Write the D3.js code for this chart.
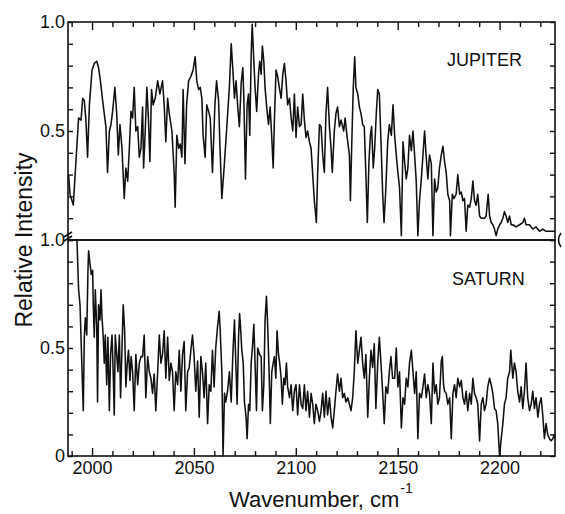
<!DOCTYPE html>
<html>
<head>
<meta charset="utf-8">
<script src="https://cdn.jsdelivr.net/npm/d3@7"></script>
<style>
	body { margin: 0; background: #fff; }
	svg text { font-family: 'Liberation Sans', Arial, sans-serif; fill: #111; }
	.axis line { stroke: #111; stroke-width: 1.4; }
	.axis path { display: none; }
	.frame { fill: none; stroke: #111; stroke-width: 1.6; }
	.spectrum { fill: none; stroke: #111; stroke-width: 1.55; stroke-linejoin: round; }
</style>
</head>
<body>
<div id="chart"></div>
<script>
'use strict';

// wavenumber (cm-1) and relative intensity
var jupiterWave = [1988.5,1989.2,1990.8,1992.1,1993.4,1994.6,1995.4,1996.2,1997.0,1997.8,1998.7,2000.0,2001.1,2002.3,2003.2,2004.1,2005.2,2006.0,2006.8,2007.6,2008.5,2009.3,2010.1,2011.2,2012.1,2012.9,2013.7,2014.7,2015.8,2016.6,2017.5,2018.3,2019.1,2019.9,2020.7,2021.5,2022.4,2023.2,2024.0,2024.8,2025.3,2026.1,2026.9,2027.7,2028.4,2029.2,2030.0,2031.0,2032.2,2033.3,2034.6,2035.4,2036.2,2037.1,2037.9,2039.2,2040.3,2040.8,2041.6,2042.5,2043.3,2044.1,2044.7,2045.6,2046.4,2047.4,2048.5,2049.6,2050.6,2051.4,2052.3,2053.1,2053.9,2054.5,2055.5,2056.3,2057.2,2058.0,2059.1,2060.3,2061.1,2062.1,2062.7,2063.7,2064.8,2066.0,
	2067.4,2068.3,2069.1,2069.9,2070.7,2071.5,2072.3,2073.2,2074.0,2074.5,2075.3,2076.1,2076.8,2077.4,2078.1,2078.6,2079.4,2080.0,2080.8,2081.7,2082.3,2083.0,2083.6,2084.3,2084.9,2085.7,2086.6,2087.4,2088.2,2088.9,2089.5,2090.3,2091.1,2091.9,2092.8,2093.6,2094.4,2095.2,2096.0,2096.9,2097.7,2098.5,2099.3,2100.1,2100.9,2101.8,2102.6,2103.4,2104.2,2105.0,2105.8,2106.7,2107.5,2108.3,2109.1,2110.1,2110.7,2111.6,2112.4,2113.2,2114.0,2114.8,2115.6,2116.5,2117.3,2117.9,2118.9,2119.7,2120.5,2121.4,2122.2,2123.5,2124.2,2125.1,2126.3,2126.8,2127.4,2128.2,2128.9,2129.5,2130.4,2131.2,2132.0,2132.8,2133.6,2134.4,2135.1,2135.9,2136.6,2137.2,2138.0,2138.7,2139.5,2140.2,2141.0,2141.8,2142.6,2143.3,2144.1,2145.1,2145.9,
	2146.9,2147.7,2148.5,2149.3,2150.1,2150.9,2151.8,2152.6,2153.4,2154.2,2155.0,2155.8,2156.7,2157.5,2158.3,2159.1,2159.9,2160.7,2161.6,2162.4,2163.2,2164.0,2164.8,2165.6,2166.5,2167.3,2168.1,2168.9,2169.7,2170.5,2171.4,2172.2,2173.0,2173.8,2174.6,2175.5,2175.9,2176.8,2177.6,2178.7,2179.5,2180.4,2181.2,2182.0,2182.8,2183.6,2184.4,2185.3,2186.1,2186.9,2187.7,2188.5,2189.3,2190.2,2191.0,2191.8,2192.6,2193.4,2194.4,2195.1,2195.9,2196.7,2197.5,2198.3,2199.1,2200.0,2200.8,2201.6,2202.4,2203.2,2204.0,2204.9,2205.7,2206.5,2208.1,2209.8,2211.4,2212.2,2213.0,2214.7,2216.3,2217.9,2219.6,2221.2,2222.8,2224.5,2226.1,2227.2];
var jupiterIntensity = [.30,.21,.16,.36,.56,.55,.65,.64,.55,.38,.62,.78,.81,.82,.79,.73,.64,.58,.52,.31,.50,.53,.59,.70,.58,.39,.53,.42,.19,.33,.27,.42,.59,.56,.70,.50,.52,.38,.42,.61,.33,.50,.70,.55,.36,.69,.62,.65,.73,.67,.73,.62,.45,.65,.58,.50,.31,.15,.48,.42,.44,.38,.69,.35,.62,.73,.75,.78,.84,.73,.69,.70,.65,.48,.38,.62,.59,.56,.31,.62,.73,.64,.45,.19,.33,.50,
	.70,.90,.78,.65,.73,.61,.52,.72,.79,.65,.28,.62,.67,.48,.85,.99,.82,.70,.59,.76,.82,.76,.89,.82,.70,.61,.53,.61,.47,.33,.55,.78,.75,.70,.65,.76,.81,.73,.62,.65,.56,.50,.67,.47,.61,.52,.53,.67,.55,.47,.50,.45,.42,.30,.18,.08,.30,.53,.52,.39,.31,.58,.70,.52,.42,.31,.50,.58,.61,.52,.55,.50,.56,.48,.39,.18,.42,.70,.84,.70,.67,.61,.58,.53,.52,.30,.08,.36,.48,.52,.33,.42,.58,.69,.67,.45,.22,.08,.22,.45,.53,
	.48,.62,.48,.39,.31,.24,.02,.45,.36,.28,.33,.48,.41,.50,.39,.27,.02,.18,.28,.39,.50,.38,.28,.39,.35,.02,.28,.22,.24,.33,.39,.43,.36,.31,.21,.18,.02,.21,.19,.21,.30,.21,.22,.18,.19,.04,.16,.15,.19,.27,.18,.16,.21,.11,.10,.10,.10,.11,.21,.11,.08,.07,.05,.02,.05,.07,.08,.10,.13,.11,.08,.11,.07,.07,.06,.07,.08,.10,.07,.07,.05,.06,.04,.05,.04,.04,.04,.04];

var saturnWave = [1992.6,1993.4,1994.1,1995.1,1995.7,1996.2,1996.7,1997.4,1998.0,1998.3,1999.0,1999.6,2000.3,2000.6,2001.1,2001.6,2002.3,2002.7,2003.2,2003.9,2004.4,2004.9,2005.5,2006.0,2006.5,2007.2,2007.8,2008.5,2009.1,2009.8,2010.4,2010.9,2011.4,2012.1,2012.7,2013.4,2014.0,2014.7,2015.3,2016.0,2016.6,2017.3,2017.9,2018.6,2019.2,2019.9,2020.7,2021.5,2022.4,2023.2,2024.0,2024.8,2025.6,2026.4,2027.3,2028.1,2028.9,2029.7,2030.5,2031.3,2032.2,2033.0,2033.8,2034.6,2035.4,2036.2,2037.1,2037.9,2038.7,2039.5,2040.3,2041.1,2042.0,2042.8,2043.6,2044.4,2045.2,2046.0,2046.9,2047.7,2048.5,2049.3,2050.1,2050.9,2051.8,2052.6,2053.4,2054.2,2055.0,2055.8,2056.7,2057.5,2058.3,2059.1,2059.9,2060.7,2061.6,2062.4,2062.9,2063.7,2064.3,2065.0,2065.6,2066.5,
	2067.4,2068.3,2069.1,2069.9,2070.7,2071.2,2071.9,2072.4,2072.8,2073.5,2074.2,2074.8,2075.6,2076.1,2076.8,2077.4,2078.1,2078.7,2079.4,2080.0,2080.7,2081.3,2082.2,2083.0,2083.6,2084.3,2084.9,2085.6,2086.2,2086.9,2087.5,2088.2,2088.9,2089.5,2090.2,2090.8,2091.5,2092.1,2092.8,2093.4,2094.1,2094.7,2095.4,2096.0,2096.9,2097.7,2098.5,2099.3,2100.1,2100.9,2101.8,2102.6,2103.4,2104.2,2105.0,2105.8,2106.7,2107.5,2108.3,2109.1,2109.9,2110.7,2111.6,2112.4,2113.2,2114.0,2114.8,2115.6,2116.5,2117.3,2118.1,2118.9,2119.7,2120.5,2121.4,2122.2,2123.0,2123.8,2124.6,2125.5,2126.3,2127.1,2127.9,2128.7,2129.5,2130.4,2131.2,2132.0,2132.8,2133.6,2134.4,2135.3,2136.1,2136.9,2137.7,2138.5,2139.3,2140.2,2141.0,2141.8,2142.6,2143.4,2144.2,2145.1,2145.9,2146.7,2147.5,
	2148.5,2149.3,2150.1,2150.9,2151.8,2152.6,2153.4,2154.2,2155.0,2155.8,2156.7,2157.5,2158.3,2159.1,2159.9,2160.7,2161.6,2162.4,2163.2,2164.0,2164.8,2165.6,2166.5,2167.3,2168.1,2168.9,2169.7,2170.5,2171.4,2171.9,2172.5,2173.0,2173.8,2174.6,2175.5,2176.3,2177.1,2177.9,2178.7,2179.5,2180.4,2181.2,2182.0,2182.8,2183.6,2184.4,2185.3,2186.1,2186.9,2187.7,2188.5,2189.3,2190.2,2191.0,2191.8,2192.6,2193.4,2194.2,2195.1,2195.9,2196.7,2197.5,2198.3,2199.1,2200.0,2200.8,2201.6,2202.4,2203.2,2204.0,2204.9,2205.5,2206.5,2207.3,2208.1,2208.9,2209.8,2210.6,2211.4,2212.2,2213.0,2213.8,2214.7,2215.5,2216.3,2217.1,2217.9,2218.8,2219.6,2220.4,2221.2,2222.0,2222.8,2223.6,2224.5,2225.3,2226.1,2226.9,2227.2];
var saturnIntensity = [1.00,.77,.70,.39,.21,.55,.64,.56,.86,.95,.89,.84,.86,.70,.55,.77,.60,.25,.70,.63,.77,.64,.55,.43,.56,.33,.55,.21,.47,.56,.38,.19,.56,.47,.39,.56,.27,.50,.70,.58,.32,.43,.49,.35,.46,.39,.21,.47,.33,.43,.46,.46,.56,.27,.46,.39,.36,.29,.38,.21,.39,.56,.43,.47,.58,.36,.55,.35,.43,.39,.21,.39,.33,.49,.30,.47,.53,.21,.39,.41,.49,.56,.46,.30,.44,.18,.46,.39,.27,.43,.15,.33,.30,.49,.32,.50,.60,.67,.58,.39,.00,.29,.25,.30,
	.39,.25,.47,.63,.39,.24,.55,.66,.61,.49,.43,.25,.18,.08,.24,.21,.43,.50,.61,.43,.21,.50,.47,.46,.21,.33,.63,.74,.60,.39,.15,.39,.43,.46,.36,.58,.47,.43,.36,.24,.36,.33,.43,.32,.27,.33,.21,.30,.33,.19,.33,.24,.22,.33,.21,.30,.18,.29,.24,.15,.24,.21,.16,.21,.29,.18,.30,.19,.27,.18,.13,.21,.30,.38,.30,.36,.27,.29,.25,.27,.24,.21,.27,.39,.58,.43,.49,.55,.43,.36,.47,.18,.36,.49,.41,.52,.22,.43,.55,.43,.30,.15,.32,.29,.39,.46,.36,
	.36,.50,.32,.39,.13,.27,.24,.36,.32,.43,.49,.39,.29,.39,.08,.29,.27,.32,.38,.27,.33,.29,.15,.43,.29,.33,.24,.27,.44,.46,.33,.30,.29,.24,.27,.08,.29,.33,.27,.36,.32,.35,.27,.24,.30,.21,.29,.24,.36,.29,.27,.24,.07,.24,.27,.21,.24,.32,.36,.33,.29,.22,.21,.15,.00,.08,.15,.24,.27,.36,.39,.49,.36,.43,.39,.30,.25,.32,.22,.30,.43,.27,.21,.24,.30,.22,.27,.18,.24,.27,.19,.08,.15,.10,.08,.07,.08,.10,.08];

// tick positions and labels
var xTicks = [1990,2000,2010,2020,2030,2040,2050,2060,2070,2080,2090,2100,2110,2120,2130,2140,2150,2160,2170,2180,2190,2200,2210,2220];
var xLabels = [2000, 2050, 2100, 2150, 2200];
var yTicks = [0,0.1,0.2,0.3,0.4,0.5,0.6,0.7,0.8,0.9,1.0];
var jupiterYLabels = [0.5, 1.0];
var saturnYLabels = [0, 0.5, 1.0];

InitVis();

function InitVis() {
	// constants
	var WIDTH = 565,
		HEIGHT = 514,
		LEFT = 68,
		RIGHT = 555,
		TOP = 22,
		MID = 240,
		BOTTOM = 456;

	var svg = d3.select('#chart').append('svg')
		.attr('width', WIDTH)
		.attr('height', HEIGHT);

	// scales
	var x = d3.scaleLinear().domain([1988.2, 2227.2]).range([LEFT, RIGHT]);
	var yJup = d3.scaleLinear().domain([0, 1]).range([MID, TOP]);
	var ySat = d3.scaleLinear().domain([0, 1]).range([BOTTOM, MID]);

	function labelFormat(list) {
		return function(d) {
			if (list.indexOf(d) < 0) return '';
			return d === 0 ? '0' : d.toFixed(1);
		};
	}

	// x axes, top of jupiter panel and bottom of saturn panel
	var topAxis = svg.append('g')
		.attr('class', 'axis')
		.attr('transform', 'translate(0,' + TOP + ')')
		.call(d3.axisTop(x).tickValues(xTicks).tickSize(-5).tickFormat(''));
	topAxis.selectAll('.tick line')
		.filter(function(d) { return d % 50 === 0; })
		.attr('y2', 8);

	var bottomAxis = svg.append('g')
		.attr('class', 'axis')
		.attr('transform', 'translate(0,' + BOTTOM + ')')
		.call(d3.axisBottom(x).tickValues(xTicks).tickSize(-5).tickPadding(5)
			.tickFormat(function(d) { return xLabels.indexOf(d) < 0 ? '' : d; }));
	bottomAxis.selectAll('.tick line')
		.filter(function(d) { return d % 50 === 0; })
		.attr('y2', -8);
	bottomAxis.selectAll('text')
		.style('font-size', '18px');

	// y axes, both sides of both panels
	var panels = [[yJup, jupiterYLabels], [ySat, saturnYLabels]];
	panels.forEach(function(p) {
		svg.append('g')
			.attr('class', 'axis')
			.attr('transform', 'translate(' + LEFT + ',0)')
			.call(d3.axisLeft(p[0]).tickValues(yTicks).tickSize(-5).tickPadding(3)
				.tickFormat(labelFormat(p[1])))
			.selectAll('text')
				.style('font-size', '18px');

		svg.append('g')
			.attr('class', 'axis')
			.attr('transform', 'translate(' + RIGHT + ',0)')
			.call(d3.axisRight(p[0]).tickValues(yTicks).tickSize(-5).tickFormat(''));
	});

	// frames
	svg.append('rect')
		.attr('class', 'frame')
		.attr('x', LEFT)
		.attr('y', TOP)
		.attr('width', RIGHT - LEFT)
		.attr('height', MID - TOP);
	svg.append('rect')
		.attr('class', 'frame')
		.attr('x', LEFT)
		.attr('y', MID)
		.attr('width', RIGHT - LEFT)
		.attr('height', BOTTOM - MID);

	// break marks where the two panels meet
	svg.append('path')
		.attr('class', 'frame')
		.attr('stroke-width', 1.1)
		.attr('d', 'M' + (LEFT - 4) + ',' + (MID - 3) + 'l8,-5M' + (LEFT - 4) + ',' + (MID + 1) + 'l8,-5');
	svg.append('path')
		.attr('class', 'frame')
		.attr('stroke-width', 1.2)
		.attr('d', 'M' + (RIGHT + 6) + ',' + (MID - 7) + 'q-5,7 0,14');

	// spectra
	var jupLine = d3.line()
		.x(function(d, i) { return x(jupiterWave[i]); })
		.y(function(d) { return yJup(d); });
	var satLine = d3.line()
		.x(function(d, i) { return x(saturnWave[i]); })
		.y(function(d) { return ySat(d); });

	svg.append('path')
		.attr('class', 'spectrum')
		.attr('d', jupLine(jupiterIntensity));
	svg.append('path')
		.attr('class', 'spectrum')
		.attr('d', satLine(saturnIntensity));

	// planet labels
	svg.append('text')
		.attr('x', 447)
		.attr('y', 66)
		.style('font-size', '18px')
		.text('JUPITER');
	svg.append('text')
		.attr('x', 452)
		.attr('y', 285)
		.style('font-size', '18px')
		.text('SATURN');

	// axis titles
	svg.append('text')
		.attr('transform', 'translate(32,240) rotate(-90)')
		.style('text-anchor', 'middle')
		.style('font-size', '23px')
		.text('Relative Intensity');

	var xTitle = svg.append('text')
		.attr('x', 229)
		.attr('y', 507)
		.style('font-size', '22px')
		.text('Wavenumber, cm');
	xTitle.append('tspan')
		.attr('dx', 1)
		.attr('dy', -14)
		.style('font-size', '14px')
		.text('-1');
}
</script>
</body>
</html>
